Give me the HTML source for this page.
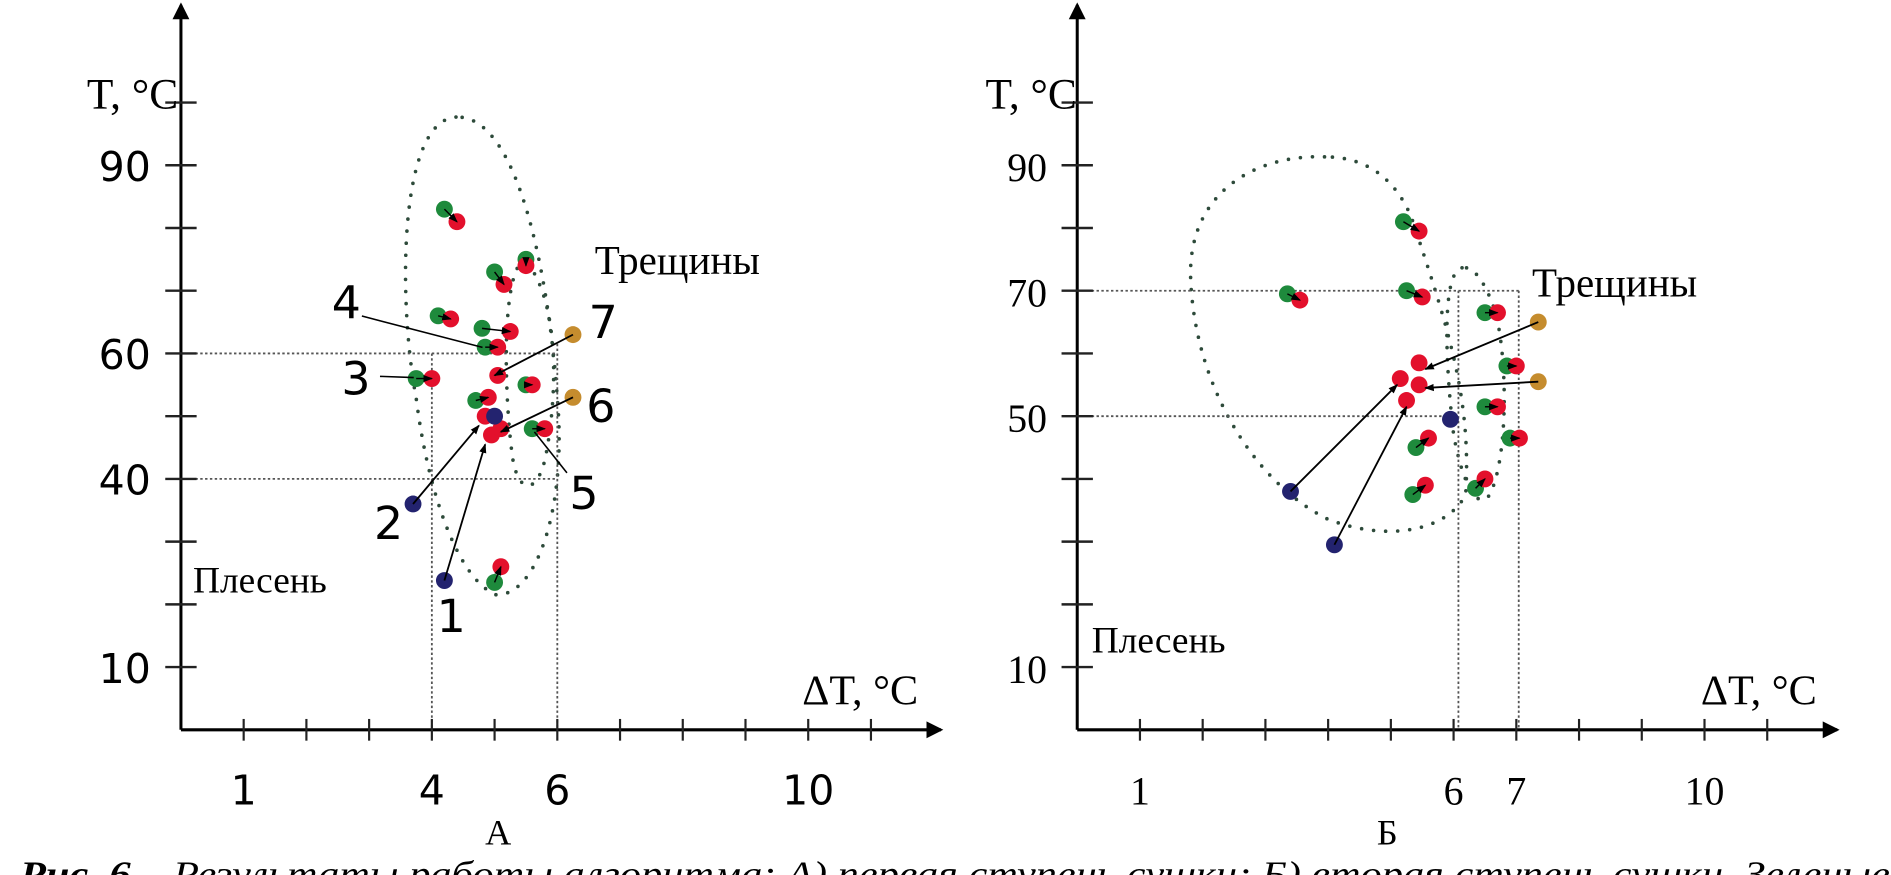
<!DOCTYPE html>
<html><head><meta charset="utf-8"><style>
html,body{margin:0;padding:0;background:#fff;}
svg{display:block;}
.sans{font-family:"DejaVu Sans","Liberation Sans",sans-serif;}
.serif{font-family:"Liberation Serif","DejaVu Serif",serif;}
</style></head><body>
<svg id="fig" width="1891" height="875" viewBox="0 0 1891 875" xmlns="http://www.w3.org/2000/svg">
<defs>
<marker id="ah" markerWidth="8" markerHeight="8" refX="7" refY="4" orient="auto" markerUnits="userSpaceOnUse"><path d="M0,1 L8,4 L0,7 z" fill="#000"/></marker>
<marker id="axh" markerWidth="14" markerHeight="20" refX="12" refY="10" orient="auto" markerUnits="userSpaceOnUse"><path d="M0,3 L14,10 L0,17 z" fill="#000"/></marker>
</defs>
<g transform="scale(1.2063)">
<g id="chartA"></g>
<g id="chartB"></g>
<text x="413" y="700" font-size="30" class="serif" text-anchor="middle">А</text>
<text x="1150" y="700" font-size="30" class="serif" text-anchor="middle">Б</text>
</g>
<text x="20" y="886" font-size="36" class="serif" font-style="italic" textLength="1870" lengthAdjust="spacingAndGlyphs"><tspan font-weight="bold">Рис. 6</tspan> – Результаты работы алгоритма: А) первая ступень сушки; Б) вторая ступень сушки. Зеленые</text>
</svg>
<script>
// ---- Chart A data (data units: x = ΔT index, y = T °C) ----
const aPairsGreen = [[4.2,83],[5.0,73],[5.5,75],[4.1,66],[4.8,64],[4.85,61],[3.75,56],[5.5,55],[4.7,52.5],[5.6,48],[5.0,23.5]];
const aPairsRed   = [[4.4,81],[5.15,71],[5.5,74],[4.3,65.5],[5.25,63.5],[5.05,61],[4.0,56],[5.6,55],[4.9,53],[5.8,48],[5.1,26]];
const aBlue   = [[3.7,36],[4.2,23.8],[5.0,50]];
const aOrange = [[6.25,63],[6.25,53]];
const aTargets = [[4.85,50],[4.95,47],[5.05,56.5],[5.1,48]];
const aArrowFrom = [[3.7,36],[4.2,23.8],[6.25,63],[6.25,53]];
const aArrowTo   = [[4.75,48.5],[4.85,45.5],[5.0,56.5],[5.1,47.5]];
const aYTicks = [10,40,60,90];
const aXTicks = [1,4,6,10];
// ---- Chart B data ----
const bPairsGreen = [[3.35,69.5],[5.2,81],[5.25,70],[6.5,66.5],[6.85,58],[6.5,51.5],[6.9,46.5],[5.4,45],[5.35,37.5],[6.35,38.5]];
const bPairsRed   = [[3.55,68.5],[5.45,79.5],[5.5,69],[6.7,66.5],[7.0,58],[6.7,51.5],[7.05,46.5],[5.6,46.5],[5.55,39],[6.5,40]];
const bBlue   = [[3.4,38],[4.1,29.5],[5.95,49.5]];
const bOrange = [[7.35,65],[7.35,55.5]];
const bTargets = [[5.45,58.5],[5.15,56],[5.45,55],[5.25,52.5]];
const bArrowFrom = [[3.4,38],[4.1,29.5],[7.35,65],[7.35,55.5]];
const bArrowTo   = [[5.1,55],[5.25,51.5],[5.55,57.5],[5.55,54.5]];
const bYTicks = [10,50,70,90];
const bXTicks = [1,6,7,10];

const NS = "http://www.w3.org/2000/svg";
function mk(parent, tag, attrs){ const e=document.createElementNS(NS,tag); for(const k in attrs) e.setAttribute(k,attrs[k]); parent.appendChild(e); return e; }
const COL = {g:"#1e8a3c", r:"#e3102c", b:"#23236f", o:"#c58c2e"};

function drawChart(g, ox, yTicks, xTicks, labelFont, greens, reds, blues, oranges, targets, af, at, guides){
  const sx = v => ox + 52*v;
  const sy = v => 605 - 5.2*v;
  guides.forEach(gl=>{
    const l = mk(g,'line',{x1:gl[0],y1:gl[1],x2:gl[2],y2:gl[3],stroke:'#555','stroke-width':1.5,'stroke-dasharray':'2 2'});
    
    
  });
  const ya = mk(g,'line',{x1:ox,y1:605,x2:ox,y2:4,stroke:'#000','stroke-width':2.5,'marker-end':'url(#axh)'});
  
  
  const xa = mk(g,'line',{x1:ox,y1:605,x2:ox+630,y2:605,stroke:'#000','stroke-width':2.5,'marker-end':'url(#axh)'});
  
  
  for(let v=10; v<=100; v+=10){
    const t = mk(g,'line',{x1:ox-13,y1:sy(v),x2:ox+13,y2:sy(v),stroke:'#222','stroke-width':2});
    
    
  }
  for(let v=1; v<=11; v++){
    const t = mk(g,'line',{x1:sx(v),y1:596,x2:sx(v),y2:614,stroke:'#222','stroke-width':1.8});
    
    
  }
  yTicks.forEach(v=>{
    const t = mk(g,'text',{x:ox-25,y:sy(v)+13,'font-size':labelFont.size,'text-anchor':'end',class:labelFont.cls});
    t.textContent = v;
    
    
  });
  xTicks.forEach(v=>{
    const t = mk(g,'text',{x:sx(v),y:667,'font-size':labelFont.size,'text-anchor':'middle',class:labelFont.cls});
    t.textContent = v;
    
    
  });
  greens.forEach((p,i)=>{
    const q = reds[i];
    const d1 = mk(g,'circle',{cx:sx(p[0]),cy:sy(p[1]),r:7,fill:COL.g});
    
    
    const d2 = mk(g,'circle',{cx:sx(q[0]),cy:sy(q[1]),r:7,fill:COL.r});
    
    
    const a = mk(g,'line',{x1:sx(p[0]),y1:sy(p[1]),x2:sx(q[0]),y2:sy(q[1]),stroke:'#000','stroke-width':1.2,'marker-end':'url(#ah)'});
    
    
  });
  targets.forEach(p=>{
    const d = mk(g,'circle',{cx:sx(p[0]),cy:sy(p[1]),r:7,fill:COL.r});
    
    
  });
  blues.forEach(p=>{
    const d = mk(g,'circle',{cx:sx(p[0]),cy:sy(p[1]),r:7,fill:COL.b});
    
    
  });
  oranges.forEach(p=>{
    const d = mk(g,'circle',{cx:sx(p[0]),cy:sy(p[1]),r:7,fill:COL.o});
    
    
  });
  af.forEach((p,i)=>{
    const q = at[i];
    const a = mk(g,'line',{x1:sx(p[0]),y1:sy(p[1]),x2:sx(q[0]),y2:sy(q[1]),stroke:'#000','stroke-width':1.5,'marker-end':'url(#ah)'});
    
    
  });
}

function dotted(g, d, name){
  const p = mk(g,'path',{d:d,fill:'none',stroke:'#2d4a3a','stroke-width':3,'stroke-linecap':'round','stroke-dasharray':'0 10'});
  
  
}
function txt(g,x,y,s,cls,content,name){
  const t = mk(g,'text',{x:x,y:y,'font-size':s,class:cls});
  t.textContent = content;
  
  
}

const gA = document.getElementById('chartA');
dotted(gA,"M378,97 C330,100 330,250 345,330 C355,410 380,480 411,493 C445,495 470,420 462,330 C455,230 430,95 378,97 Z",'mold-region-outline');
dotted(gA,"M435,215 C415,225 418,330 425,380 C430,410 445,410 452,380 C462,330 465,250 435,215 Z",'crack-region-outline');
drawChart(gA,150,aYTicks,aXTicks,{size:34,cls:'sans'},aPairsGreen,aPairsRed,aBlue,aOrange,aTargets,aArrowFrom,aArrowTo,
  [[162,293,462,293],[162,397,462,397],[358,293,358,605],[462,285,462,605]]);
[[300,262,400,288],[315,312,343,313],[470,392,443,358]].forEach(l=>{
  const e = mk(gA,'line',{x1:l[0],y1:l[1],x2:l[2],y2:l[3],stroke:'#000','stroke-width':1.3});
  
  
});
[[275,264,'4'],[283,327,'3'],[488,280,'7'],[486,350,'6'],[472,422,'5'],[310,447,'2'],[362,524,'1']].forEach(c=>{
  txt(gA,c[0],c[1],38,'sans',c[2],'point-label-'+c[2]);
});
txt(gA,72,90,36,'serif','T, °C','y-axis-title');
txt(gA,665,584,35,'serif','ΔT, °C','x-axis-title');
txt(gA,493,227,34,'serif','Трещины','crack-region-label');
txt(gA,160,491,31,'serif','Плесень','mold-region-label');

const gB = document.getElementById('chartB');
dotted(gB,"M1098,130 C1040,128 985,160 987,230 C990,320 1040,400 1100,430 C1150,450 1200,440 1215,410 C1220,330 1200,270 1170,180 C1155,145 1130,130 1098,130 Z",'mold-region-outline');
dotted(gB,"M1212,222 C1195,225 1198,300 1205,360 C1212,400 1225,425 1235,410 C1250,380 1250,300 1240,260 C1232,235 1222,220 1212,222 Z",'crack-region-outline');
drawChart(gB,893,bYTicks,bXTicks,{size:33,cls:'serif'},bPairsGreen,bPairsRed,bBlue,bOrange,bTargets,bArrowFrom,bArrowTo,
  [[905,241,1259,241],[905,345,1207,345],[1209,241,1209,605],[1259,241,1259,605]]);
txt(gB,817,90,36,'serif','T, °C','y-axis-title');
txt(gB,1410,584,35,'serif','ΔT, °C','x-axis-title');
txt(gB,1270,246,34,'serif','Трещины','crack-region-label');
txt(gB,905,541,31,'serif','Плесень','mold-region-label');
</script>
</body></html>
